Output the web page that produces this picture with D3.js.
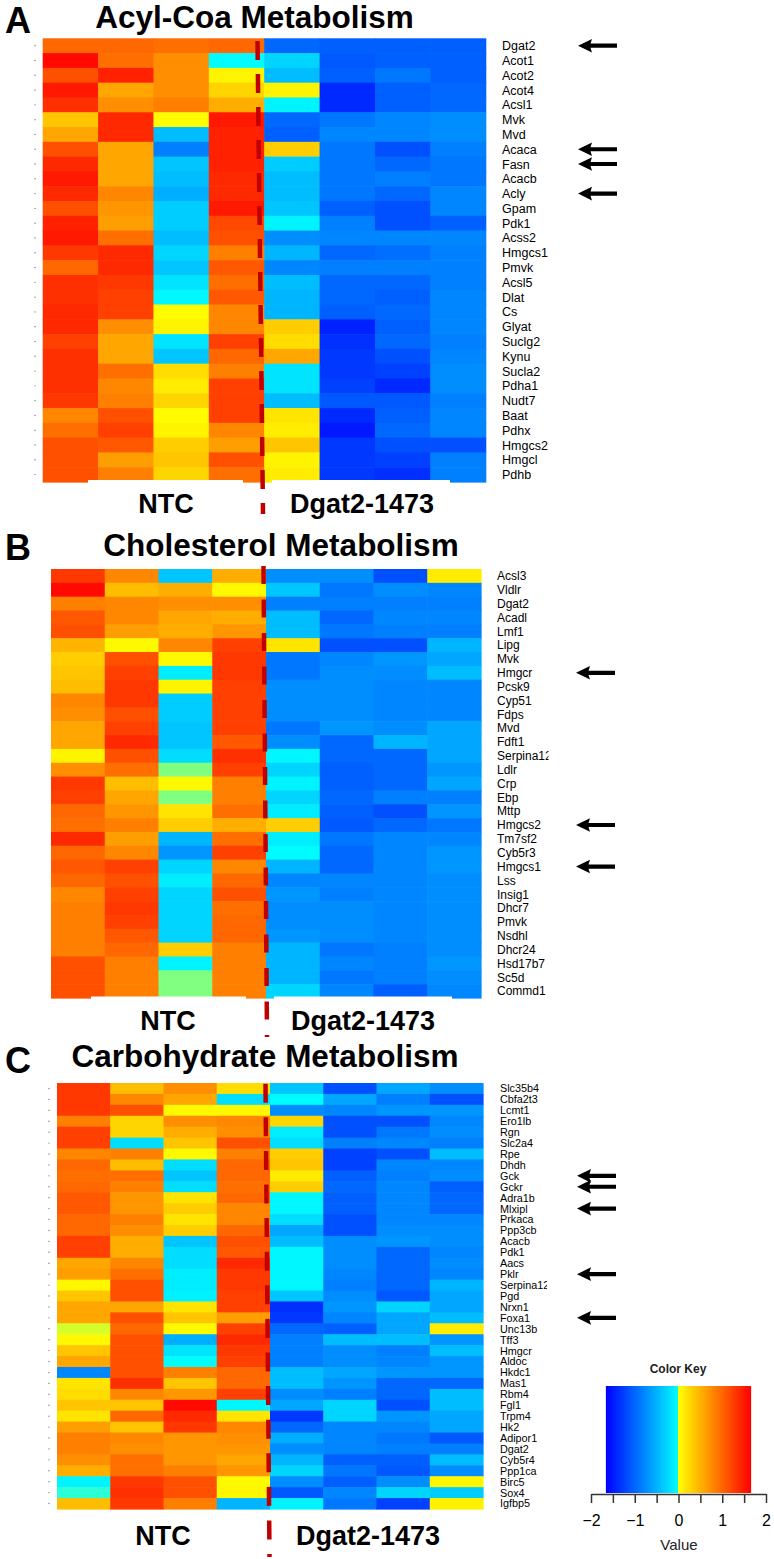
<!DOCTYPE html>
<html>
<head>
<meta charset="utf-8">
<script src="https://cdn.jsdelivr.net/npm/d3@7"></script>
<style>
body { margin: 0; background: #fff; }
svg { display: block; }
text { font-family: "Liberation Sans", Arial, Helvetica, sans-serif; fill: #000; }
</style>
</head>
<body>
<div id="chart"></div>
<script>
// columns: 4 control replicates, 4 knockdown replicates
const samples = ["NTC-1", "NTC-2", "NTC-3", "NTC-4", "Dgat2-1", "Dgat2-2", "Dgat2-3", "Dgat2-4"];
const groups = ["NTC", "Dgat2-1473"];

// A. Acyl-Coa metabolism
const genesA = ["Dgat2","Acot1","Acot2","Acot4","Acsl1","Mvk","Mvd","Acaca","Fasn","Acacb","Acly","Gpam","Pdk1","Acss2","Hmgcs1",
  "Pmvk","Acsl5","Dlat","Cs","Glyat","Suclg2","Kynu","Sucla2","Pdha1","Nudt7","Baat","Pdhx","Hmgcs2","Hmgcl","Pdhb"];
const valuesA = [
  [1.0, 1.0, 0.95, 1.0, -1.0, -1.05, -1.05, -1.05],
  [1.6, 0.95, 0.75, -0.05, -0.3, -1.1, -1.05, -1.05],
  [1.15, 1.45, 0.75, 0.1, -0.45, -1.05, -0.9, -1.05],
  [1.5, 0.6, 0.75, 0.3, 0.1, -1.4, -1.05, -1.0],
  [1.35, 0.75, 0.85, 0.55, -0.1, -1.4, -1.05, -1.0],
  [0.4, 1.4, 0.04, 1.5, -1.0, -0.9, -0.8, -0.75],
  [0.6, 1.4, -0.45, 1.45, -1.05, -0.8, -0.8, -0.75],
  [1.15, 0.6, -0.85, 1.45, 0.35, -0.9, -1.15, -0.85],
  [1.4, 0.6, -0.4, 1.45, -0.35, -0.9, -1.0, -0.9],
  [1.5, 0.6, -0.45, 1.4, -0.45, -0.9, -0.85, -0.9],
  [1.4, 0.8, -0.55, 1.4, -0.45, -0.9, -1.0, -0.8],
  [1.15, 0.7, -0.35, 1.5, -0.4, -1.05, -1.15, -0.8],
  [1.45, 0.65, -0.35, 1.2, -0.1, -0.85, -1.15, -1.05],
  [1.5, 0.95, -0.45, 1.15, -0.75, -0.8, -0.8, -0.8],
  [1.3, 1.4, -0.3, 0.85, -0.5, -1.0, -0.95, -0.85],
  [1.0, 1.4, -0.4, 1.1, -0.8, -0.85, -0.85, -0.85],
  [1.35, 1.3, -0.2, 0.95, -0.45, -1.0, -1.0, -0.85],
  [1.35, 1.25, -0.08, 1.1, -0.5, -1.0, -1.05, -0.8],
  [1.4, 1.25, 0.05, 0.8, -0.5, -1.05, -1.0, -0.8],
  [1.4, 0.75, 0.1, 0.8, 0.35, -1.45, -1.05, -0.8],
  [1.25, 0.6, -0.2, 1.25, 0.25, -1.35, -1.0, -0.85],
  [1.35, 0.6, -0.4, 1.0, 0.6, -1.3, -1.15, -0.8],
  [1.35, 0.95, 0.25, 0.85, -0.2, -1.3, -1.25, -0.75],
  [1.35, 0.8, 0.15, 1.25, -0.2, -1.25, -1.4, -0.75],
  [1.3, 0.85, 0.3, 1.25, -0.45, -1.1, -1.1, -0.85],
  [0.8, 1.15, 0.05, 1.25, 0.2, -1.4, -1.05, -0.8],
  [0.95, 1.25, 0.1, 0.8, 0.15, -1.5, -1.0, -0.8],
  [1.15, 1.1, 0.35, 0.65, 0.4, -1.3, -1.15, -1.15],
  [1.15, 0.65, 0.4, 1.15, 0.1, -1.3, -1.25, -0.85],
  [1.15, 0.85, 0.3, 0.95, 0.15, -1.3, -1.35, -0.85]
];
const arrowsA = ["Dgat2", "Acaca", "Fasn", "Acly"];

// B. Cholesterol metabolism
const genesB = ["Acsl3","Vldlr","Dgat2","Acadl","Lmf1","Lipg","Mvk","Hmgcr","Pcsk9","Cyp51","Fdps","Mvd","Fdft1","Serpina12","Ldlr",
  "Crp","Ebp","Mttp","Hmgcs2","Tm7sf2","Cyb5r3","Hmgcs1","Lss","Insig1","Dhcr7","Pmvk","Nsdhl","Dhcr24","Hsd17b7","Sc5d","Commd1"];
const valuesB = [
  [1.3, 0.8, -0.4, 0.55, -0.75, -0.75, -1.15, 0.15],
  [1.6, 0.45, 0.55, 0.07, -0.4, -0.9, -0.75, -0.8],
  [0.85, 0.8, 0.75, 0.75, -0.85, -0.85, -0.85, -0.85],
  [1.1, 0.8, 0.6, 0.55, -0.45, -1.0, -0.8, -0.8],
  [1.15, 0.65, 0.55, 0.7, -0.45, -0.9, -0.85, -0.85],
  [0.5, 0.07, 0.8, 1.25, 0.2, -1.15, -1.15, -0.5],
  [0.35, 1.15, 0.07, 1.3, -0.9, -0.8, -0.7, -0.6],
  [0.4, 1.25, -0.15, 1.3, -0.9, -0.75, -0.75, -0.45],
  [0.45, 1.3, 0.1, 1.25, -0.75, -0.75, -0.8, -0.8],
  [0.8, 1.3, -0.35, 1.25, -0.75, -0.75, -0.8, -0.8],
  [0.75, 1.15, -0.35, 1.25, -0.75, -0.75, -0.8, -0.8],
  [0.6, 1.25, -0.4, 1.25, -0.9, -0.7, -0.75, -0.6],
  [0.6, 1.4, -0.4, 1.1, -0.75, -1.0, -0.5, -0.6],
  [0.1, 1.15, -0.25, 1.35, -0.08, -1.0, -1.0, -0.6],
  [0.75, 0.95, 0.0, 1.25, -0.3, -1.05, -1.0, -0.7],
  [1.3, 0.45, 0.07, 0.85, -0.1, -1.05, -1.0, -0.6],
  [1.25, 0.6, 0.0, 0.85, -0.3, -1.0, -0.85, -0.85],
  [1.0, 0.7, 0.2, 0.95, -0.15, -1.05, -1.15, -0.7],
  [0.95, 0.85, 0.35, 0.55, 0.35, -1.1, -1.0, -0.9],
  [1.4, 0.65, -0.5, 0.95, -0.15, -0.9, -0.8, -0.8],
  [1.0, 0.8, -0.7, 1.25, -0.05, -1.0, -0.8, -0.7],
  [1.1, 1.25, -0.3, 0.8, -0.5, -1.0, -0.8, -0.7],
  [1.0, 1.15, -0.15, 1.0, -0.8, -0.8, -0.8, -0.75],
  [0.8, 1.25, -0.3, 1.15, -0.7, -0.85, -0.8, -0.75],
  [0.85, 1.3, -0.3, 0.95, -0.75, -0.75, -0.8, -0.75],
  [0.85, 1.25, -0.3, 1.0, -0.75, -0.75, -0.8, -0.75],
  [0.85, 1.1, -0.3, 1.0, -0.7, -0.75, -0.8, -0.75],
  [0.85, 1.0, 0.35, 0.85, -0.5, -0.9, -0.85, -0.75],
  [1.15, 0.85, -0.1, 0.85, -0.5, -0.8, -0.85, -0.7],
  [1.15, 0.85, 0.0, 0.85, -0.5, -0.9, -0.85, -0.75],
  [1.15, 0.85, 0.0, 0.85, -0.3, -0.8, -1.05, -0.8]
];
const arrowsB = ["Hmgcr", "Hmgcs2", "Hmgcs1"];

// C. Carbohydrate metabolism
const genesC = ["Slc35b4","Cbfa2t3","Lcmt1","Ero1lb","Rgn","Slc2a4","Rpe","Dhdh","Gck","Gckr","Adra1b","Mlxipl","Prkaca","Ppp3cb",
  "Acacb","Pdk1","Aacs","Pklr","Serpina12","Pgd","Nrxn1","Foxa1","Unc13b","Tff3","Hmgcr","Aldoc","Hkdc1","Mas1","Rbm4","Fgl1",
  "Trpm4","Hk2","Adipor1","Dgat2","Cyb5r4","Ppp1ca","Birc5","Sox4","Igfbp5"];
const valuesC = [
  [1.3, 0.45, 0.75, 0.25, -0.4, -1.15, -0.6, -0.75],
  [1.3, 0.8, 0.6, -0.25, -0.05, -0.6, -0.85, -1.15],
  [1.3, 1.15, 0.07, 0.08, -0.75, -0.8, -0.7, -0.7],
  [0.85, 0.3, 0.75, 0.8, 0.3, -1.15, -1.15, -0.8],
  [1.25, 0.3, 0.55, 0.75, -0.15, -1.15, -0.9, -0.75],
  [1.25, -0.25, 0.4, 1.15, -0.25, -0.85, -0.8, -0.85],
  [0.8, 0.85, 0.07, 0.85, 0.35, -1.25, -1.15, -0.45],
  [1.0, 0.45, -0.25, 1.0, 0.4, -1.25, -0.8, -0.8],
  [0.95, 0.95, -0.4, 1.0, 0.15, -1.05, -0.85, -0.75],
  [1.0, 0.85, -0.25, 0.95, 0.35, -1.0, -0.8, -1.05],
  [1.1, 0.7, 0.2, 1.0, -0.08, -1.05, -0.8, -1.0],
  [1.1, 0.7, 0.35, 0.8, -0.08, -1.05, -0.8, -1.0],
  [1.0, 0.85, 0.2, 0.8, -0.25, -1.15, -0.8, -0.8],
  [1.0, 0.75, 0.35, 1.0, -0.6, -1.15, -0.75, -0.75],
  [1.25, 0.55, -0.4, 1.15, -0.45, -0.75, -0.7, -0.75],
  [1.25, 0.55, -0.25, 1.1, -0.08, -0.75, -1.0, -0.8],
  [0.6, 0.8, -0.25, 1.4, -0.08, -0.75, -1.0, -0.75],
  [0.65, 0.95, -0.15, 1.3, -0.08, -0.8, -1.0, -0.8],
  [0.08, 1.15, -0.15, 1.3, -0.08, -0.85, -1.0, -0.5],
  [0.4, 1.15, -0.12, 1.25, -0.4, -0.75, -1.1, -0.6],
  [0.6, 0.6, 0.2, 1.25, -1.35, -0.7, -0.3, -0.6],
  [0.6, 1.15, 0.4, 0.65, -1.3, -0.8, -0.6, -0.45],
  [0.02, 1.0, 0.07, 1.25, -1.0, -1.05, -0.6, 0.15],
  [0.07, 1.15, -0.55, 1.4, -0.85, -0.45, -0.45, -0.7],
  [0.4, 1.15, -0.2, 1.3, -0.85, -0.75, -0.85, -0.45],
  [0.6, 1.15, -0.05, 1.25, -0.85, -0.75, -0.8, -0.7],
  [-0.8, 1.15, 0.85, 1.0, -0.45, -0.6, -0.7, -0.7],
  [0.2, 1.35, 0.4, 1.0, -0.45, -0.7, -1.0, -1.0],
  [0.25, 0.8, 0.7, 1.25, -0.75, -0.85, -1.0, -0.45],
  [0.4, 0.4, 1.6, -0.08, -0.6, -0.3, -1.15, -0.45],
  [0.2, 1.0, 1.4, 0.2, -1.3, -0.3, -0.7, -0.6],
  [0.65, 0.4, 1.3, 0.8, -1.0, -0.8, -0.8, -0.6],
  [0.85, 0.8, 0.7, 0.75, -0.55, -0.8, -0.9, -1.1],
  [0.85, 0.75, 0.7, 0.7, -0.75, -0.8, -0.85, -0.85],
  [0.75, 0.95, 0.7, 0.6, -0.5, -1.05, -1.05, -0.45],
  [0.55, 0.95, 0.85, 0.7, -0.3, -0.9, -1.1, -0.75],
  [-0.1, 1.3, 1.15, 0.07, -0.75, -1.05, -0.75, 0.08],
  [-0.02, 1.35, 1.15, 0.08, -1.1, -0.8, -0.3, -0.35],
  [0.45, 1.3, 0.85, -0.5, -0.1, -0.9, -1.25, 0.12]
];
const arrowsC = ["Gck", "Gckr", "Mlxipl", "Pklr", "Foxa1"];

// color key
const keyTicks = [-2, -1.5, -1, -0.5, 0, 0.5, 1, 1.5, 2];
const keyRange = [-1.66, 1.66];

const W = 774, H = 1559;
const svg = d3.select("#chart").append("svg").attr("width", W).attr("height", H);
const defs = svg.append("defs");

const color = d3.scaleLinear()
  .domain([-1.66, -0.03, 0, 0.03, 1.66])
  .range(["#0000ff", "#00ffff", "#80ff80", "#ffff00", "#ff0000"])
  .clamp(true);

const panels = [
  { letter: "A", title: "Acyl-Coa Metabolism", genes: genesA, values: valuesA, arrows: arrowsA,
    x0: 42.7, x1: 485.7, y0: 38.3, y1: 482, titleX: 254.5, titleY: 28, letterY: 33,
    labelX: 502, labelSize: 12.5, dotX: 35, arrowX: 578, clipW: 0,
    dashTop: [257.5, 41], dashBottom: [263, 514], dashArray: "19,14",
    groupY: 513, groupX: [166, 362], boxes: [[88, 243], [272, 450]], boxY: 480 },
  { letter: "B", title: "Cholesterol Metabolism", genes: genesB, values: valuesB, arrows: arrowsB,
    x0: 51, x1: 481, y0: 569, y1: 998, titleX: 281, titleY: 555.5, letterY: 560,
    labelX: 497, labelSize: 12, dotX: null, arrowX: 576, clipW: 548.5,
    dashTop: [263.5, 566], dashBottom: [267, 1037], dashArray: "18,15.5",
    groupY: 1030, groupX: [168, 363], boxes: [[91, 246], [274, 452]], boxY: 996.5 },
  { letter: "C", title: "Carbohydrate Metabolism", genes: genesC, values: valuesC, arrows: arrowsC,
    x0: 57, x1: 483, y0: 1083, y1: 1509, titleX: 265, titleY: 1066.5, letterY: 1073,
    labelX: 500, labelSize: 10.8, dotX: 49, arrowX: 577, clipW: 547,
    dashTop: [265.5, 1083.7], dashBottom: [269.5, 1557], dashArray: "19,14.6",
    groupY: 1545, groupX: [163, 368], boxes: [], boxY: 0 }
];

function drawPanel(p) {
  const g = svg.append("g");
  const x = d3.scaleBand().domain(samples).range([p.x0, p.x1]);
  const y = d3.scaleBand().domain(p.genes).range([p.y0, p.y1]);

  const cells = [];
  p.genes.forEach((gene, i) => {
    p.values[i].forEach((v, j) => cells.push({ gene: gene, sample: samples[j], value: v }));
  });

  g.append("g").selectAll("rect").data(cells).join("rect")
    .attr("x", d => x(d.sample))
    .attr("y", d => y(d.gene))
    .attr("width", x.bandwidth() + 0.6)
    .attr("height", y.bandwidth() + 0.6)
    .attr("fill", d => color(d.value));

  // little row ticks on the left
  if (p.dotX !== null) {
    g.append("g").selectAll("circle").data(p.genes).join("circle")
      .attr("cx", p.dotX)
      .attr("cy", d => y(d) + y.bandwidth() / 2)
      .attr("r", 0.7)
      .attr("fill", "#777");
  }

  // row labels (long names get cut at the panel edge, e.g. "Serpina1")
  const lab = g.append("g");
  if (p.clipW) {
    defs.append("clipPath").attr("id", "clip" + p.letter)
      .append("rect").attr("x", 0).attr("y", p.y0 - 20).attr("width", p.clipW).attr("height", p.y1 - p.y0 + 40);
    lab.attr("clip-path", `url(#clip${p.letter})`);
  }
  lab.selectAll("text").data(p.genes).join("text")
    .attr("x", p.labelX)
    .attr("y", d => y(d) + y.bandwidth() / 2)
    .attr("dy", "0.36em")
    .style("font-size", p.labelSize + "px")
    .text(d => d);

  // arrows pointing at highlighted genes
  const arrowPath = "M0,0 L14,-6.8 L12.5,-2.1 L39,-2.1 L39,2.1 L12.5,2.1 L14,6.8 Z";
  g.append("g").selectAll("path").data(p.arrows).join("path")
    .attr("d", arrowPath)
    .attr("transform", d => `translate(${p.arrowX},${y(d) + y.bandwidth() / 2})`)
    .attr("fill", "#000");

  // white label boxes overlapping the bottom edge
  g.append("g").selectAll("rect").data(p.boxes).join("rect")
    .attr("x", d => d[0]).attr("y", p.boxY)
    .attr("width", d => d[1] - d[0]).attr("height", 12)
    .attr("fill", "#fff");

  // red dashed separator between the groups
  g.append("line")
    .attr("x1", p.dashTop[0]).attr("y1", p.dashTop[1])
    .attr("x2", p.dashBottom[0]).attr("y2", p.dashBottom[1])
    .attr("stroke", "#c00000")
    .attr("stroke-width", 4.5)
    .attr("stroke-dasharray", p.dashArray);

  // group labels
  g.append("g").selectAll("text").data(groups).join("text")
    .attr("x", (d, i) => p.groupX[i])
    .attr("y", p.groupY)
    .attr("text-anchor", "middle")
    .style("font-size", "27px")
    .style("font-weight", "700")
    .text(d => d);

  // title + panel letter
  g.append("text")
    .attr("x", p.titleX).attr("y", p.titleY)
    .attr("text-anchor", "middle")
    .style("font-size", "31.5px")
    .style("font-weight", "700")
    .text(p.title);
  g.append("text")
    .attr("x", 5).attr("y", p.letterY)
    .style("font-size", "36px")
    .style("font-weight", "700")
    .text(p.letter);
}

panels.forEach(drawPanel);

// ---- color key ----
const kx = d3.scaleLinear().domain([-2, 2]).range([591, 766]);
const keyTop = 1386, keyBottom = 1493;

const grad = defs.append("linearGradient")
  .attr("id", "keyGrad").attr("x1", "0%").attr("x2", "100%").attr("y1", "0%").attr("y2", "0%");
const stops = [[-1.66, 0], [-0.03, 0.5], [0.03, 0.5], [1.66, 1]];
grad.selectAll("stop").data(stops).join("stop")
  .attr("offset", d => (d[1] * 100) + "%")
  .attr("stop-color", d => color(d[0]));

svg.append("rect")
  .attr("x", kx(keyRange[0])).attr("y", keyTop)
  .attr("width", kx(keyRange[1]) - kx(keyRange[0]))
  .attr("height", keyBottom - keyTop)
  .attr("fill", "url(#keyGrad)");

svg.append("text")
  .attr("x", 678).attr("y", 1372.5)
  .attr("text-anchor", "middle")
  .style("font-size", "12px")
  .style("font-weight", "700")
  .style("fill", "#222")
  .text("Color Key");

const keyAxis = d3.axisBottom(kx)
  .tickValues(keyTicks)
  .tickSize(9)
  .tickSizeOuter(0)
  .tickPadding(12)
  .tickFormat(d => Number.isInteger(d) ? d3.format("d")(d) : "");

const ax = svg.append("g").attr("transform", `translate(0,${keyBottom + 1})`).call(keyAxis);
ax.select(".domain").attr("stroke", "#333").attr("stroke-width", 1.5);
ax.selectAll(".tick line").attr("stroke", "#333").attr("stroke-width", 1.5);
ax.selectAll(".tick text")
  .style("font-size", "16px")
  .style("font-family", '"Liberation Sans", Arial, sans-serif')
  .attr("fill", "#222");

svg.append("text")
  .attr("x", 679).attr("y", 1550)
  .attr("text-anchor", "middle")
  .style("font-size", "15px")
  .style("fill", "#222")
  .text("Value");
</script>
</body>
</html>
